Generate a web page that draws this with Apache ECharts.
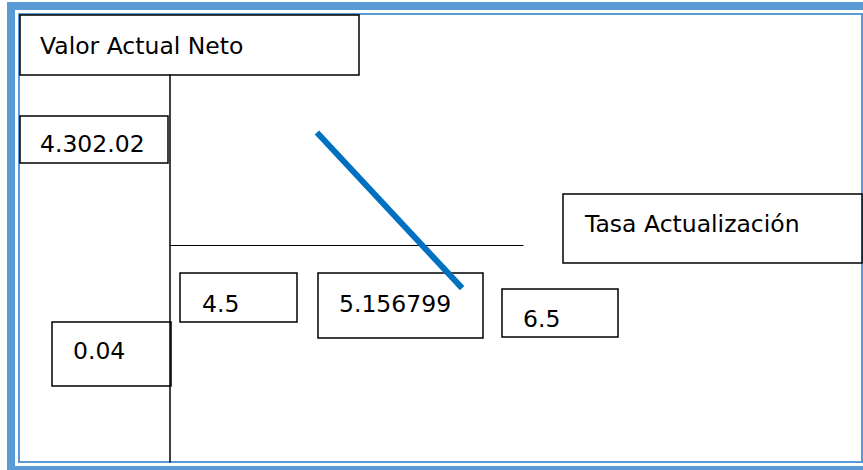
<!DOCTYPE html>
<html>
<head>
<meta charset="utf-8">
<script src="https://cdn.jsdelivr.net/npm/echarts@6/dist/echarts.min.js"></script>
<style>
  html, body { margin: 0; padding: 0; background: #fff; }
  #myChart { width: 863px; height: 470px; }
</style>
</head>
<body>
<div id="myChart"></div>
<script>
// datos
const tasa = [3.33, 6.62];          // eje horizontal (tasa)
const van = [4600, -1750];          // eje vertical (VAN)
const vanLabel = "Valor Actual Neto";
const tasaLabel = "Tasa Actualización";
const vanTicks = ["4.302.02", "0.04"];
const tasaTicks = ["4.5", "5.156799", "6.5"];

const FONT = '23.5px "DejaVu Sans"';
const FRAME = "#5b9bd5";

// caja con texto
function box(x, y, w, h, text, tx, ty) {
  return {
    type: "group",
    children: [
      {
        type: "rect",
        shape: { x: x, y: y, width: w, height: h },
        style: { fill: "#fff", stroke: "#000", lineWidth: 1.5 },
      },
      {
        type: "text",
        style: {
          text: text, x: tx, y: ty, font: FONT, fill: "#000",
          align: "left", verticalAlign: "middle",
        },
      },
    ],
  };
}

let myChart = echarts.init(document.getElementById("myChart"), null, { renderer: "svg" });

let option = {
  animation: false,
  backgroundColor: "#fff",
  grid: { left: 170, right: 340, top: 75, bottom: 8 },
  xAxis: {
    type: "value",
    min: 0,
    max: 8,
    axisLine: { onZero: true, lineStyle: { color: "#000", width: 1.2 } },
    axisTick: { show: false },
    axisLabel: { show: false },
    splitLine: { show: false },
  },
  yAxis: {
    type: "value",
    min: -8850,
    max: 6950,
    axisLine: { show: true, lineStyle: { color: "#000", width: 1.5 } },
    axisTick: { show: false },
    axisLabel: { show: false },
    splitLine: { show: false },
  },
  graphic: [
    // marco azul
    {
      type: "rect",
      shape: { x: 11, y: 6, width: 880, height: 464 },
      style: { fill: "none", stroke: FRAME, lineWidth: 8 },
    },
    {
      type: "rect",
      shape: { x: 19, y: 14, width: 843, height: 448 },
      style: { fill: "none", stroke: FRAME, lineWidth: 2 },
    },
    box(20, 15, 339, 60, vanLabel, 40, 46),
    box(20, 116, 148, 47, vanTicks[0], 40, 144),
    box(52, 322, 119, 64, vanTicks[1], 73, 351),
    box(180, 273, 117, 49, tasaTicks[0], 202, 304),
    box(318, 273, 165, 65, tasaTicks[1], 339, 304),
    box(502, 289, 116, 48, tasaTicks[2], 523, 319),
    box(563, 194, 299, 69, tasaLabel, 585, 224),
  ],
  series: [
    {
      type: "line",
      data: tasa.map((t, i) => [t, van[i]]),
      showSymbol: false,
      symbol: "none",
      lineStyle: { color: "#0070c0", width: 6, cap: "butt" },
      z: 5,
    },
  ],
};
myChart.setOption(option);
</script>
</body>
</html>
